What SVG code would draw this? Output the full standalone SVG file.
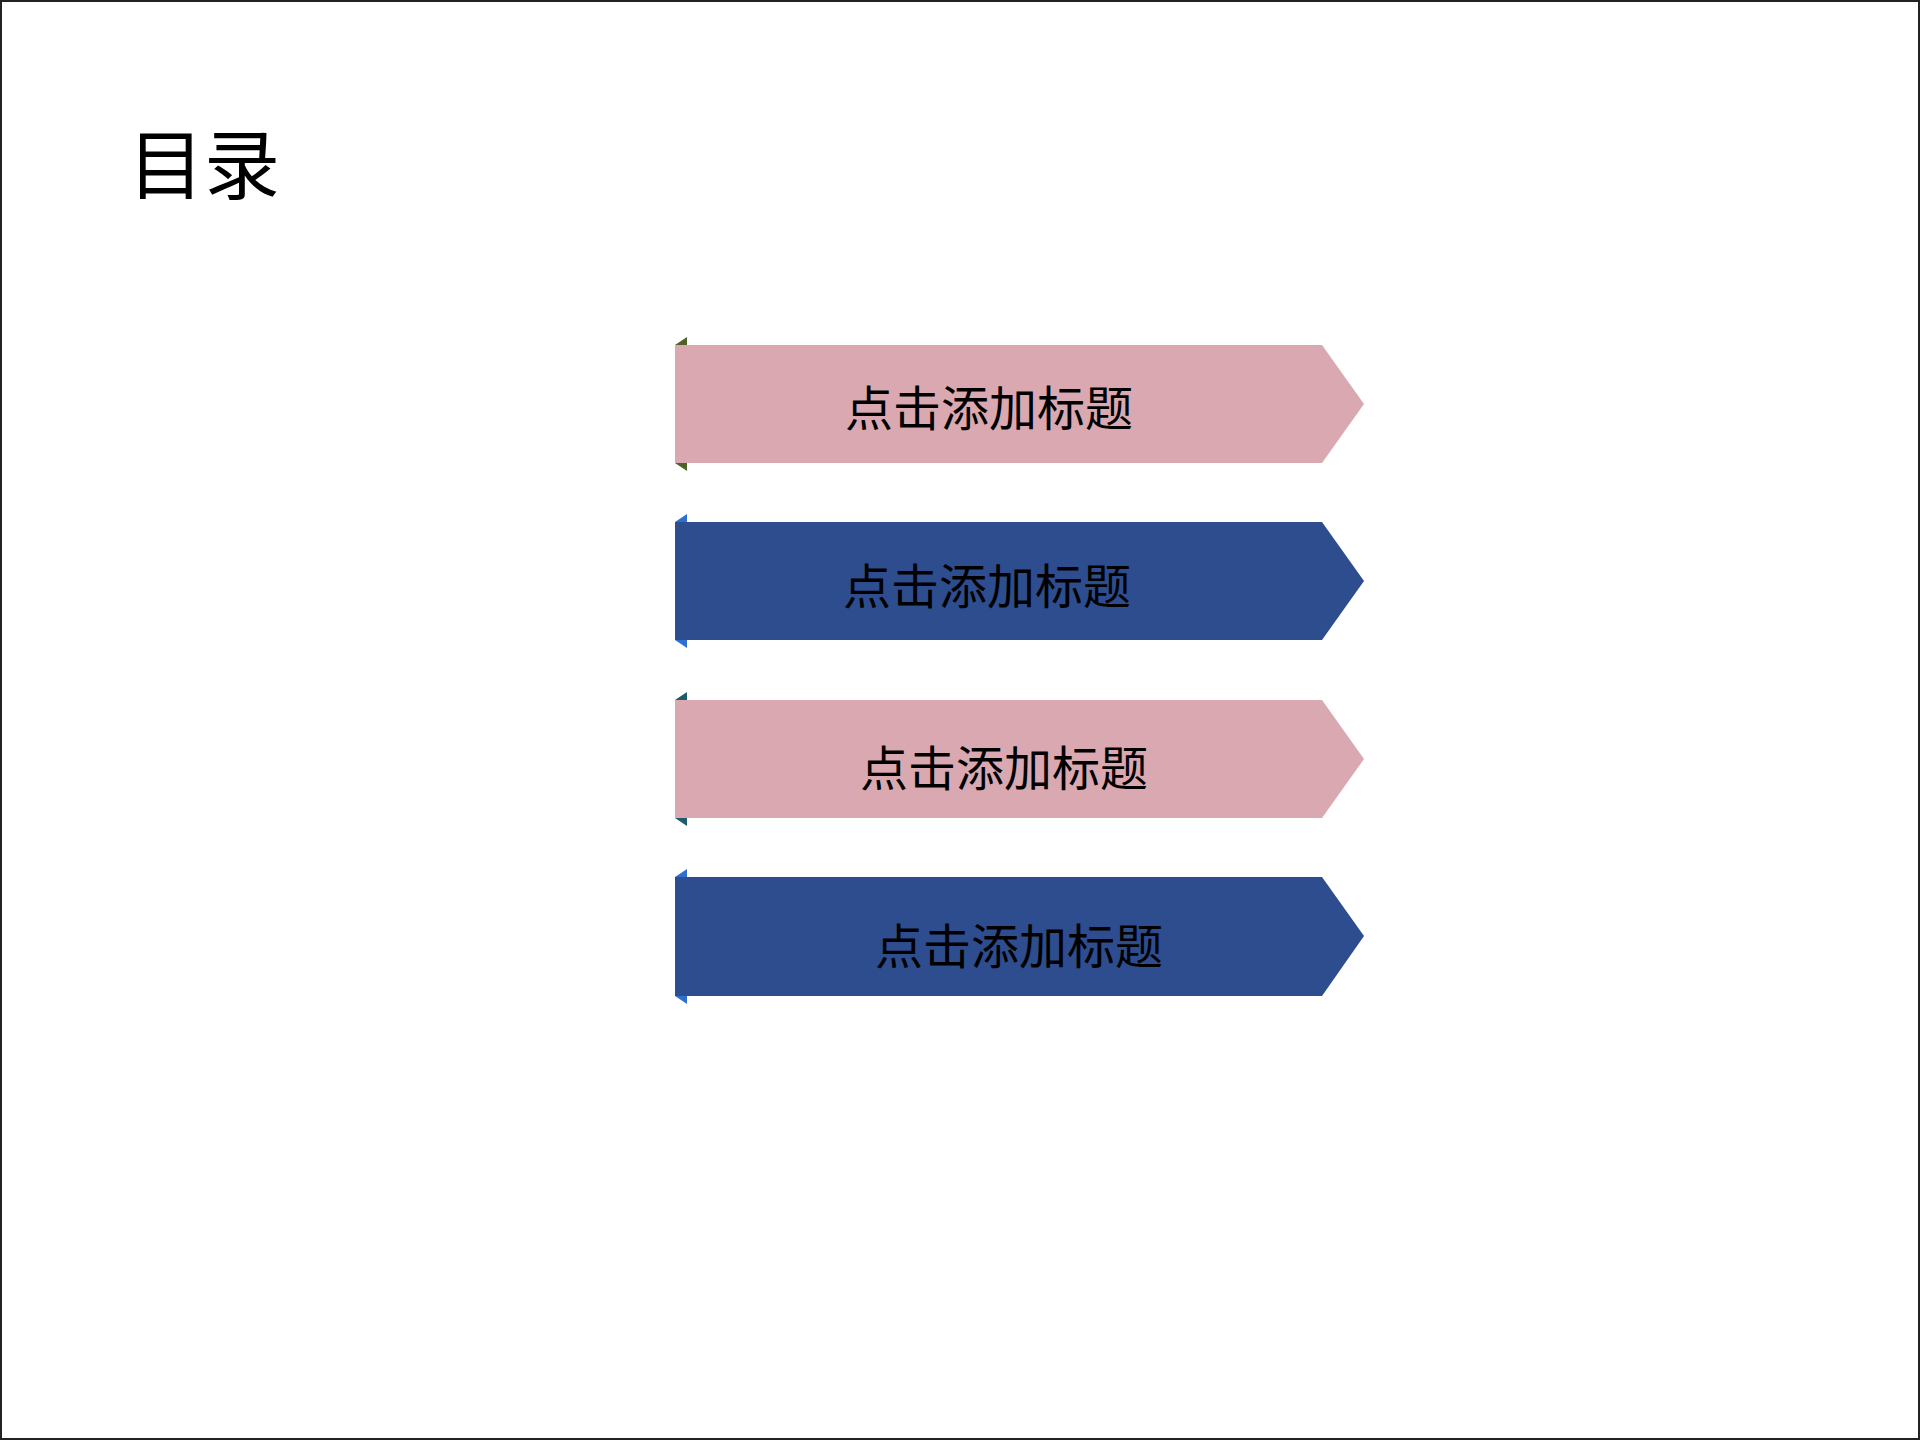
<svg xmlns="http://www.w3.org/2000/svg" width="1920" height="1440" viewBox="0 0 1920 1440">
<style>
.t{font-family:"Noto Sans CJK SC","Liberation Sans",sans-serif;font-size:48px;fill:#000;text-anchor:middle;dominant-baseline:central}
.pink{fill:#D9A8B0}.blue{fill:#2D4D8F}
</style>
<rect x="1" y="1" width="1918" height="1438" fill="#fff" stroke="#222" stroke-width="2"/>
<text x="128" y="193" font-family="Noto Sans CJK SC,sans-serif" font-size="76" fill="#000">目录</text>
<g id="item1">
<polygon points="675,345 687,337 687,471 675,463" fill="#4F6228"/>
<polygon class="pink" points="675,345 1322,345 1364,404 1322,463 675,463"/>
<text class="t" x="989" y="405">点击添加标题</text>
</g>
<g id="item2">
<polygon points="675,522 687,514 687,648 675,640" fill="#2F6FD0"/>
<polygon class="blue" points="675,522 1322,522 1364,581 1322,640 675,640"/>
<text class="t" x="987" y="583">点击添加标题</text>
</g>
<g id="item3">
<polygon points="675,700 687,692 687,826 675,818" fill="#1F5C6B"/>
<polygon class="pink" points="675,700 1322,700 1364,759 1322,818 675,818"/>
<text class="t" x="1004" y="765">点击添加标题</text>
</g>
<g id="item4">
<polygon points="675,877 687,869 687,1004 675,996" fill="#2F6FD0"/>
<polygon class="blue" points="675,877 1322,877 1364,936 1322,996 675,996"/>
<text class="t" x="1019" y="943">点击添加标题</text>
</g>
<g id="connectors"/>
</svg>
